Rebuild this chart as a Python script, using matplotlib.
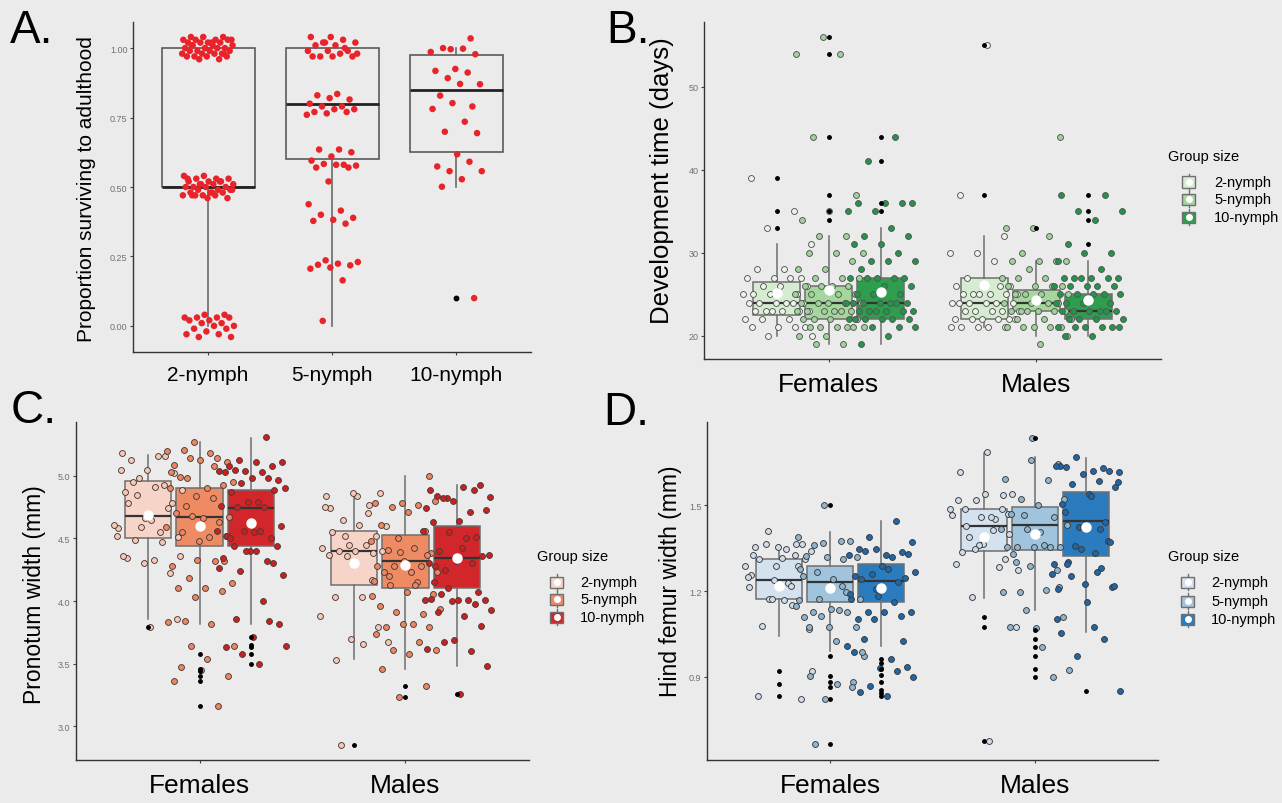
import numpy as np
import matplotlib
matplotlib.use("Agg")
import matplotlib.pyplot as plt
from matplotlib.patches import Rectangle
from matplotlib.lines import Line2D

plt.rcParams['font.family'] = ['Liberation Sans', 'DejaVu Sans']

W, H = 1282, 804
BG = '#ebebeb'

groups = ['2-nymph', '5-nymph', '10-nymph']
sexes = ['Females', 'Males']

# ---- A. proportion surviving to adulthood (points as plotted, jittered in y)
surv_2 = [1.04, 1.04, 1.04, 1.03, 1.03, 1.03, 1.03, 1.02, 1.02, 1.02, 1.02, 1.01, 1.01, 1.01,
          1.00, 1.00, 1.00, 1.00, 0.99, 0.99, 0.99, 0.99, 0.98, 0.98, 0.98, 0.98, 0.97, 0.97,
          0.97, 0.97, 0.96, 0.96, 1.03, 1.02, 1.01, 0.98,
          0.54, 0.54, 0.53, 0.53, 0.53, 0.52, 0.52, 0.52, 0.51, 0.51, 0.51, 0.50, 0.50, 0.50,
          0.50, 0.49, 0.49, 0.49, 0.48, 0.48, 0.48, 0.47, 0.47, 0.47, 0.47, 0.46, 0.46, 0.53,
          0.52, 0.51, 0.49, 0.48, 0.47,
          0.04, 0.04, 0.03, 0.03, 0.03, 0.03, 0.02, 0.02, 0.01, 0.01, 0.00, 0.00, -0.01, -0.01,
          -0.02, -0.03, -0.03, -0.04, -0.04]
surv_5 = [1.04, 1.04, 1.03, 1.02, 1.02, 1.01, 1.01, 0.99, 0.99, 0.99, 0.98, 0.97, 0.97, 0.97,
          0.97, 1.00, 1.02, 0.98,
          0.835, 0.83, 0.815, 0.82, 0.80, 0.79, 0.79, 0.78, 0.78, 0.77, 0.77, 0.765, 0.76,
          0.635, 0.635, 0.625, 0.61, 0.595, 0.58, 0.583, 0.577, 0.58, 0.57, 0.57, 0.52,
          0.438, 0.415, 0.40, 0.389, 0.382, 0.378, 0.368,
          0.236, 0.23, 0.224, 0.22, 0.218, 0.21, 0.206, 0.164, 0.018]
surv_10 = [1.035, 0.996, 0.986, 0.998, 1.0, 0.978, 0.925, 0.918, 0.912, 0.892, 0.870, 0.871,
           0.829, 0.79, 0.802, 0.781, 0.735, 0.699, 0.694, 0.618, 0.574, 0.591, 0.557, 0.557,
           0.528, 0.501, 0.10]
surv_q1 = [0.50, 0.60, 0.626]
surv_med = [0.50, 0.80, 0.85]
surv_q3 = [1.00, 1.00, 0.975]
surv_lo = [0.00, 0.00, 0.50]
surv_hi = [1.00, 1.00, 1.00]
surv_out = [[], [], [0.10]]

# ---- B. development time (days)
dev_f2 = [39, 35, 33, 31, 28, 28, 27, 27, 27, 27, 26, 26, 26, 25, 25, 25, 25, 24, 24, 24, 24,
          24, 24, 23, 23, 23, 23, 23, 23, 22, 22, 22, 21, 21, 21, 21, 20, 20]
dev_f5 = [56, 54, 54, 44, 37, 35, 34, 32, 32, 30, 30, 30, 29, 28, 28, 27, 27, 27, 26, 26, 26,
          26, 25, 25, 25, 25, 24, 24, 24, 24, 24, 23, 23, 23, 23, 23, 23, 22, 22, 22, 22, 21,
          21, 21, 21, 21, 21, 20, 20, 19, 19]
dev_f10 = [44, 41, 36, 36, 36, 36, 35, 35, 33, 32, 32, 31, 31, 30, 29, 29, 29, 28, 27, 27, 27,
           27, 27, 26, 26, 25, 25, 25, 24, 24, 24, 24, 24, 24, 24, 23, 23, 23, 23, 23, 23, 22,
           22, 22, 22, 22, 22, 21, 21, 21, 20, 19]
dev_m2 = [55, 37, 32, 30, 30, 29, 27, 26, 26, 26, 26, 25, 25, 25, 25, 25, 25, 24, 24, 24, 24,
          24, 24, 23, 23, 23, 23, 23, 22, 22, 22, 22, 22, 22, 21, 21, 21, 21, 21]
dev_m5 = [44, 33, 33, 32, 30, 29, 29, 29, 29, 28, 27, 27, 27, 26, 26, 26, 26, 25, 25, 25, 25,
          24, 24, 24, 24, 23, 23, 23, 23, 23, 23, 22, 22, 22, 21, 21, 21, 21, 21, 20, 19]
dev_m10 = [37, 37, 35, 35, 34, 31, 30, 30, 29, 28, 27, 27, 27, 27, 27, 27, 26, 26, 26, 26, 26,
           25, 25, 25, 25, 25, 24, 24, 24, 24, 23, 23, 23, 23, 23, 23, 22, 22, 22, 22, 21, 21,
           21, 21, 21, 21, 20, 20]
dev_q1 = [[22.5, 22, 22], [22, 23, 22]]
dev_med = [[24, 24, 24], [24, 24, 23]]
dev_q3 = [[26.5, 26, 27], [27, 25.5, 25]]
dev_lo = [[20, 19, 19], [21, 20, 20]]
dev_hi = [[31, 32, 33], [32, 29, 29]]
dev_mean = [[25.2, 25.5, 25.3], [26.1, 24.3, 24.3]]
dev_out = [[[39, 35, 33], [56, 54, 44, 37, 35, 34], [44, 41, 36, 35]],
           [[55, 37], [33], [37, 35, 34, 31]]]

# ---- C. pronotum width (mm)
prn_f2 = [5.18, 5.16, 4.98, 4.885, 4.91, 4.78, 4.78, 4.66, 4.58, 4.47, 4.49, 4.51, 4.65, 4.87,
          4.74, 4.59, 4.61, 5.16, 5.13, 5.02, 5.05, 5.05, 4.93, 4.85, 4.36, 4.33, 4.34, 4.22,
          4.30, 4.52, 4.55, 4.95, 3.86, 3.79, 4.36]
prn_f5 = [5.27, 5.20, 5.18, 5.21, 5.11, 5.13, 5.09, 5.14, 5.14, 4.95, 4.90, 4.99, 4.93, 4.84,
          4.90, 4.82, 4.76, 4.67, 4.66, 4.70, 4.63, 4.68, 4.59, 4.51, 4.55, 4.52, 4.48, 4.28,
          4.32, 4.18, 4.14, 4.10, 4.10, 4.08, 4.03, 3.83, 3.82, 3.84, 3.40, 3.45, 3.36, 3.16,
          3.64, 3.64, 3.54, 3.47, 4.32, 4.33, 5.03, 5.08, 4.98]
prn_f10 = [5.31, 5.13, 5.11, 5.11, 5.08, 5.08, 5.04, 5.04, 5.03, 5.05, 4.97, 4.98, 5.03, 4.98,
           4.94, 4.90, 4.79, 4.87, 4.89, 4.79, 4.76, 4.75, 4.75, 4.60, 4.55, 4.52, 4.50, 4.56,
           4.56, 4.56, 4.44, 4.44, 4.40, 4.34, 4.32, 4.24, 4.21, 4.40, 4.50, 4.30, 4.40, 4.26,
           4.00, 3.86, 3.82, 3.71, 3.63, 3.84, 3.575, 3.64, 3.50]
prn_m2 = [4.84, 4.74, 4.38, 4.36, 3.88, 3.66, 3.53, 4.86, 4.86, 4.84, 4.77, 4.65, 4.60, 4.61,
          4.55, 4.52, 4.45, 4.42, 4.45, 4.40, 4.40, 4.40, 4.37, 4.17, 4.52, 3.67, 4.03, 4.03,
          3.79, 3.70, 4.75, 4.70, 2.85]
prn_m5 = [5.00, 4.78, 4.78, 4.77, 4.75, 4.80, 4.71, 4.61, 4.56, 4.50, 4.48, 4.42, 4.41, 4.38,
          4.32, 4.28, 4.28, 4.28, 4.23, 4.23, 4.23, 4.37, 4.39, 4.16, 4.15, 4.13, 4.06, 4.07,
          3.96, 3.90, 3.91, 3.94, 3.82, 3.79, 3.79, 3.82, 3.74, 3.67, 3.61, 3.61, 3.58, 3.46,
          3.32, 3.23, 4.04, 4.13, 4.20]
prn_m10 = [4.89, 4.89, 4.82, 4.83, 4.91, 4.84, 4.93, 4.80, 4.74, 4.71, 4.82, 4.73, 4.64, 4.63,
           4.51, 4.55, 4.56, 4.50, 4.40, 4.36, 4.32, 4.30, 4.30, 4.25, 4.37, 4.42, 4.28, 4.07,
           4.00, 4.01, 4.01, 4.06, 4.01, 4.01, 4.02, 3.98, 4.10, 3.93, 3.88, 3.91, 3.80, 3.69,
           3.62, 3.60, 3.67, 3.48, 3.26, 4.15]
prn_q1 = [[4.50, 4.44, 4.44], [4.13, 4.10, 4.10]]
prn_med = [[4.68, 4.67, 4.74], [4.40, 4.32, 4.345]]
prn_q3 = [[4.957, 4.90, 4.89], [4.56, 4.53, 4.60]]
prn_lo = [[3.86, 3.82, 3.82], [3.54, 3.46, 3.48]]
prn_hi = [[5.17, 5.27, 5.30], [4.87, 5.00, 4.93]]
prn_mean = [[4.69, 4.60, 4.62], [4.30, 4.29, 4.34]]
prn_out = [[[3.79], [3.575, 3.46, 3.44, 3.40, 3.36, 3.16], [3.71, 3.65, 3.63, 3.575, 3.50]],
           [[2.85], [3.32, 3.23], [3.26]]]

# ---- D. hind femur width (mm)
fem_f2 = [1.324, 1.365, 1.172, 0.922, 1.345, 1.312, 1.365, 1.289, 1.213, 1.15, 1.365, 1.068,
          1.314, 1.355, 1.287, 1.172, 1.289, 1.228, 1.077, 1.312, 1.352, 1.256, 1.326, 1.409,
          1.338, 1.167, 0.834, 0.823, 1.24, 1.248, 1.219]
fem_f5 = [1.50, 1.388, 1.373, 1.361, 1.318, 1.138, 1.108, 1.128, 1.114, 0.974, 0.875, 0.904,
          0.881, 1.318, 1.277, 1.312, 1.266, 1.172, 1.242, 1.322, 1.376, 1.368, 1.146, 1.132,
          1.126, 1.073, 1.073, 1.254, 1.196, 1.172, 0.986, 1.027, 1.073, 0.864, 0.823, 1.167,
          1.219, 0.666]
fem_f10 = [1.443, 1.390, 1.370, 1.324, 1.347, 1.336, 1.347, 1.324, 1.318, 1.341, 1.33, 1.289,
           1.254, 1.231, 1.26, 1.266, 1.277, 1.242, 1.245, 1.184, 1.172, 1.163, 1.126, 1.126,
           1.126, 1.103, 1.114, 1.103, 1.009, 0.963, 1.033, 0.934, 0.93, 0.986, 0.922, 0.869,
           0.899, 0.834, 0.846, 1.027, 1.207, 1.19]
fem_m2 = [1.685, 1.615, 1.536, 1.516, 1.485, 1.414, 1.427, 1.40, 1.365, 1.295, 1.283, 1.178,
          1.073, 0.677, 1.336, 1.312, 1.361, 1.464, 1.452, 1.388, 1.54, 1.54, 1.516, 1.487,
          1.347, 1.275, 1.458, 1.487, 1.47, 1.458]
fem_m5 = [1.645, 1.656, 1.592, 1.586, 1.522, 1.522, 1.499, 1.47, 1.458, 1.417, 1.417, 1.361,
          1.355, 1.355, 1.355, 1.355, 1.355, 1.464, 1.429, 1.405, 1.33, 1.272, 1.289, 1.196,
          1.202, 1.198, 1.108, 1.07, 1.073, 0.899, 1.135, 0.925, 1.003, 1.30, 1.213, 1.735]
fem_m10 = [1.637, 1.629, 1.667, 1.615, 1.619, 1.633, 1.619, 1.608, 1.636, 1.584, 1.573, 1.562,
           1.538, 1.503, 1.441, 1.423, 1.259, 1.332, 1.301, 1.214, 1.224, 1.207, 1.28, 1.357,
           1.58, 1.531, 1.476, 1.375, 1.346, 1.294, 1.266, 1.252, 1.217, 1.16, 1.055, 1.032,
           0.974, 0.851, 1.073, 1.294, 1.371, 1.423, 1.101, 1.416]
fem_q1 = [[1.172, 1.163, 1.163], [1.341, 1.344, 1.321]]
fem_med = [[1.238, 1.231, 1.234], [1.427, 1.431, 1.443]]
fem_q3 = [[1.312, 1.286, 1.295], [1.487, 1.495, 1.544]]
fem_lo = [[1.042, 0.99, 1.009], [1.176, 1.135, 1.056]]
fem_hi = [[1.361, 1.406, 1.443], [1.683, 1.668, 1.664]]
fem_mean = [[1.217, 1.211, 1.21], [1.388, 1.40, 1.423]]
fem_out = [[[0.922, 0.875, 0.832], [1.50, 0.973, 0.904, 0.881, 0.864, 0.823, 0.666],
            [0.963, 0.949, 0.928, 0.907, 0.881, 0.856, 0.844, 0.832]],
           [[1.108, 1.073, 0.677], [1.735, 1.065, 1.033, 1.003, 0.974, 0.928, 0.899], [0.852]]]

GRAY = '#6f6f6f'


def px(x, y):
    return x / W, 1 - y / H


def jitter(n, w, seed):
    k = np.arange(n)
    return ((k * 0.618034 + seed) % 1.0 - 0.5) * 2 * w


def style(ax, yticks, fmt, xticks, xlabels, xsize):
    ax.set_facecolor('none')
    for s in ['top', 'right']:
        ax.spines[s].set_visible(False)
    for s in ['left', 'bottom']:
        ax.spines[s].set_color('#333333')
        ax.spines[s].set_linewidth(1.0)
    ax.set_yticks(yticks)
    ax.set_yticklabels([fmt % v for v in yticks])
    ax.tick_params(axis='y', labelsize=6.5, labelcolor='#707070', length=2.5,
                   color='#444444', pad=1.5)
    ax.set_xticks(xticks)
    ax.set_xticklabels(xlabels, fontsize=xsize)
    ax.tick_params(axis='x', length=2.5, color='#444444', pad=7)


def box_panel(ax, pts, q1, med, q3, lo, hi, mean, out, box_fc, pt_fc, pt_ec):
    for i in range(2):
        for j in range(3):
            x0 = i + 1 + (j - 1) * 0.25
            st = dict(q1=q1[i][j], med=med[i][j], q3=q3[i][j], whislo=lo[i][j],
                      whishi=hi[i][j], mean=mean[i][j], fliers=out[i][j])
            ax.bxp([st], positions=[x0], widths=0.225, patch_artist=True, showmeans=True,
                   showcaps=False, manage_ticks=False,
                   boxprops=dict(facecolor=box_fc[j], edgecolor=GRAY, linewidth=1.1),
                   whiskerprops=dict(color=GRAY, linewidth=1.1),
                   medianprops=dict(color='#333333', linewidth=1.6),
                   meanprops=dict(marker='o', markerfacecolor='white', markeredgecolor='white',
                                  markersize=6.5, zorder=5),
                   flierprops=dict(marker='o', markerfacecolor='black', markeredgecolor='black',
                                   markersize=2.5, linestyle='none', zorder=4))
            y = np.asarray(pts[i][j], dtype=float)
            ax.scatter(x0 + jitter(len(y), 0.17, 0.13 + 0.29 * j + 0.41 * i), y, s=18,
                       c=pt_fc[j], edgecolors=pt_ec, linewidths=0.65, zorder=3)
    ax.set_xlim(0.4, 2.6)


def legend(xt, yt, xk, xl, ys, fills):
    fig.text(*px(xt, yt), 'Group size', fontsize=10.5, va='center', ha='left')
    for y, g, fc in zip(ys, groups, fills):
        fig.add_artist(Line2D([px(xk + 6.5, 0)[0]] * 2, [px(0, y - 8)[1], px(0, y + 8)[1]],
                              color=GRAY, lw=1, zorder=1))
        fig.add_artist(Rectangle(px(xk, y + 5.5), 13 / W, 11 / H, facecolor=fc,
                                 edgecolor=GRAY, lw=1, zorder=2))
        fig.add_artist(Line2D([px(xk + 6.5, y)[0]], [px(xk, y)[1]], marker='o',
                              markerfacecolor='white', markeredgecolor='white',
                              markersize=4, zorder=3))
        fig.text(*px(xl, y), g, fontsize=10.5, va='center', ha='left')


fig = plt.figure(figsize=(W / 100, H / 100), dpi=100, facecolor=BG)

# ---------- A
axA = fig.add_axes([133 / W, 1 - 353 / H, 398 / W, 330 / H])
surv_pts = [surv_2, surv_5, surv_10]
for j in range(3):
    st = dict(q1=surv_q1[j], med=surv_med[j], q3=surv_q3[j], whislo=surv_lo[j],
              whishi=surv_hi[j], fliers=surv_out[j])
    axA.bxp([st], positions=[j + 1], widths=0.75, patch_artist=True, showcaps=False,
            manage_ticks=False,
            boxprops=dict(facecolor='none', edgecolor='#5a5a5a', linewidth=1.2),
            whiskerprops=dict(color='#6a6a6a', linewidth=1.2),
            medianprops=dict(color='#222222', linewidth=2.0),
            flierprops=dict(marker='o', markerfacecolor='black', markeredgecolor='black',
                            markersize=3.2, linestyle='none'))
    y = np.asarray(surv_pts[j])
    axA.scatter(j + 1 + jitter(len(y), 0.21, 0.17 + 0.3 * j), y, s=22, c='#e8232a',
                edgecolors='none', zorder=3)
axA.set_xlim(0.395, 3.6)
axA.set_ylim(-0.094, 1.094)
style(axA, [0, 0.25, 0.5, 0.75, 1.0], '%.2f', [1, 2, 3], groups, 15)
fig.text(*px(87, 189), 'Proportion surviving to adulthood', rotation=90, fontsize=15,
         ha='center', va='center')

# ---------- B
axB = fig.add_axes([704 / W, 1 - 360 / H, 457 / W, 337 / H])
box_panel(axB, [[dev_f2, dev_f5, dev_f10], [dev_m2, dev_m5, dev_m10]],
          dev_q1, dev_med, dev_q3, dev_lo, dev_hi, dev_mean, dev_out,
          ['#d6ecd1', '#a3d79c', '#2e9e4e'], ['#edf5ea', '#9fd39a', '#23944a'], '#555555')
axB.set_ylim(17.2, 57.8)
style(axB, [20, 30, 40, 50], '%d', [1, 2], sexes, 19)
fig.text(*px(662, 181), 'Development time (days)', rotation=90, fontsize=18.5,
         ha='center', va='center')
legend(1168, 157, 1182, 1214, [183, 200, 218], ['#d6ecd1', '#a3d79c', '#2e9e4e'])

# ---------- C
axC = fig.add_axes([76 / W, 1 - 761 / H, 453 / W, 338 / H])
box_panel(axC, [[prn_f2, prn_f5, prn_f10], [prn_m2, prn_m5, prn_m10]],
          prn_q1, prn_med, prn_q3, prn_lo, prn_hi, prn_mean, prn_out,
          ['#f6d5c8', '#ee8b63', '#d3262a'], ['#f5c9b5', '#ec8760', '#cc1f1f'], '#4a3a3a')
axC.set_ylim(2.73, 5.43)
style(axC, [3.0, 3.5, 4.0, 4.5, 5.0], '%.1f', [1, 2], sexes, 19)
fig.text(*px(35, 595), 'Pronotum width (mm)', rotation=90, fontsize=16.5,
         ha='center', va='center')
legend(537, 557, 550, 580, [583, 600, 618], ['#f6d5c8', '#ee8b63', '#d3262a'])

# ---------- D
axD = fig.add_axes([707 / W, 1 - 761 / H, 451 / W, 338 / H])
box_panel(axD, [[fem_f2, fem_f5, fem_f10], [fem_m2, fem_m5, fem_m10]],
          fem_q1, fem_med, fem_q3, fem_lo, fem_hi, fem_mean, fem_out,
          ['#d4e2ef', '#a0c4dd', '#2b7cbf'], ['#cfdceb', '#8fb5d0', '#1f67a8'], '#3a3a3a')
axD.set_ylim(0.61, 1.79)
style(axD, [0.9, 1.2, 1.5], '%.1f', [1, 2], sexes, 19)
fig.text(*px(670, 581), 'Hind femur width (mm)', rotation=90, fontsize=16.5,
         ha='center', va='center')
legend(1168, 557, 1181, 1211, [583, 602, 620], ['#d4e2ef', '#a0c4dd', '#2b7cbf'])

# panel letters
for lab, x, y in [('A.', 10, 43), ('B.', 606, 43), ('C.', 11, 423), ('D.', 603, 425)]:
    fig.text(*px(x, y), lab, fontsize=33, ha='left', va='baseline')

fig.savefig('out.png', dpi=100, facecolor=BG)
